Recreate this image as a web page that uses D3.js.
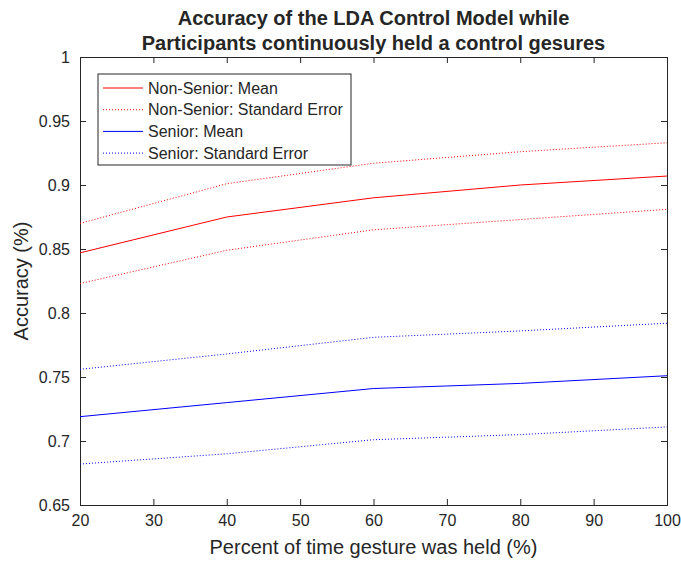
<!DOCTYPE html>
<html>
<head>
<meta charset="utf-8">
<script src="https://cdnjs.cloudflare.com/ajax/libs/d3/7.8.5/d3.min.js"></script>
<style>
  body { margin: 0; background: #fff; }
  text { font-family: "Liberation Sans", Arial, Helvetica, sans-serif; fill: #262626; }
</style>
</head>
<body>
<div id="chart"></div>
<script>
// percent of time the gesture was held
var percentHeld = [20, 40, 60, 80, 100];

var nonSeniorMean  = [0.847, 0.875, 0.890, 0.900, 0.907];
var nonSeniorUpper = [0.870, 0.901, 0.917, 0.926, 0.933];
var nonSeniorLower = [0.823, 0.849, 0.865, 0.873, 0.881];

var seniorMean  = [0.719, 0.730, 0.741, 0.745, 0.751];
var seniorUpper = [0.756, 0.768, 0.781, 0.786, 0.792];
var seniorLower = [0.682, 0.690, 0.701, 0.705, 0.711];

var xTicks = [20, 30, 40, 50, 60, 70, 80, 90, 100];
var yTicks = [0.65, 0.7, 0.75, 0.8, 0.85, 0.9, 0.95, 1];

var series = [
  {name: "Non-Senior: Mean", values: nonSeniorMean, color: "#ff0000", dotted: false},
  {name: "Non-Senior: Standard Error", values: nonSeniorUpper, color: "#ff0000", dotted: true},
  {name: "Non-Senior: Standard Error", values: nonSeniorLower, color: "#ff0000", dotted: true, hideLegend: true},
  {name: "Senior: Mean", values: seniorMean, color: "#0000ff", dotted: false},
  {name: "Senior: Standard Error", values: seniorUpper, color: "#0000ff", dotted: true},
  {name: "Senior: Standard Error", values: seniorLower, color: "#0000ff", dotted: true, hideLegend: true}
];

var WIDTH = 681, HEIGHT = 567;
var margin = {top: 57, right: 14, bottom: 62, left: 80};
var width = WIDTH - margin.left - margin.right,
    height = HEIGHT - margin.top - margin.bottom;

var svg = d3.select("#chart").append("svg")
  .attr("width", WIDTH)
  .attr("height", HEIGHT);

var g = svg.append("g").attr("transform", `translate(${margin.left},${margin.top})`);

var x = d3.scaleLinear().domain([20, 100]).range([0, width]);
var y = d3.scaleLinear().domain([0.65, 1]).range([height, 0]);

var axisColor = "#262626";
var tickLen = 6;

// axes, MATLAB style: ticks inside, box on
var xAxis = g.append("g").attr("transform", `translate(0,${height})`)
  .call(d3.axisBottom(x).tickValues(xTicks).tickSize(-tickLen).tickPadding(10).tickFormat(d3.format("d")));
var xTop = g.append("g")
  .call(d3.axisTop(x).tickValues(xTicks).tickSize(-tickLen).tickFormat(""));
var yAxis = g.append("g")
  .call(d3.axisLeft(y).tickValues(yTicks).tickSize(-tickLen).tickPadding(10).tickFormat(d => d3.format("")(d)));
var yRight = g.append("g").attr("transform", `translate(${width},0)`)
  .call(d3.axisRight(y).tickValues(yTicks).tickSize(-tickLen).tickFormat(""));

[xAxis, xTop, yAxis, yRight].forEach(a => {
  a.select(".domain").attr("stroke", axisColor).attr("stroke-width", 1);
  a.selectAll(".tick line").attr("stroke", axisColor);
  a.selectAll(".tick text").style("font-size", "16px").attr("fill", axisColor)
    .style("font-family", '"Liberation Sans", Arial, sans-serif');
});

// lines
var line = d3.line()
  .x((d, i) => x(percentHeld[i]))
  .y(d => y(d));

g.selectAll("path.series")
  .data(series)
  .join("path")
    .attr("class", "series")
    .attr("fill", "none")
    .attr("stroke", d => d.color)
    .attr("stroke-width", 1)
    .attr("stroke-dasharray", d => d.dotted ? "1,2" : null)
    .attr("d", d => line(d.values));

// title
var title = svg.append("text")
  .attr("x", margin.left + width / 2)
  .attr("text-anchor", "middle")
  .style("font-size", "20px")
  .style("font-weight", "bold")
  .attr("fill", "#000");
title.append("tspan").attr("x", margin.left + width / 2).attr("y", 25)
  .text("Accuracy of the LDA Control Model while");
title.append("tspan").attr("x", margin.left + width / 2).attr("y", 50)
  .text("Participants continuously held a control gesures");

// axis labels
svg.append("text")
  .attr("x", margin.left + width / 2)
  .attr("y", 554)
  .attr("text-anchor", "middle")
  .style("font-size", "20px")
  .text("Percent of time gesture was held (%)");

svg.append("text")
  .attr("transform", `translate(28,${margin.top + height / 2}) rotate(-90)`)
  .attr("text-anchor", "middle")
  .style("font-size", "20px")
  .text("Accuracy (%)");

// legend
var legendItems = series.filter(d => !d.hideLegend);
var legend = svg.append("g").attr("transform", "translate(98,74)");
legend.append("rect")
  .attr("width", 253)
  .attr("height", 91)
  .attr("fill", "#fff")
  .attr("stroke", "#262626")
  .attr("stroke-width", 1);

var li = legend.selectAll("g.item")
  .data(legendItems)
  .join("g")
    .attr("class", "item")
    .attr("transform", (d, i) => `translate(0,${14 + i * 21.7})`);
li.append("line")
  .attr("x1", 5).attr("x2", 45)
  .attr("stroke", d => d.color)
  .attr("stroke-width", 1)
  .attr("stroke-dasharray", d => d.dotted ? "1,2" : null);
li.append("text")
  .attr("x", 50)
  .attr("dy", "0.35em")
  .style("font-size", "16px")
  .text(d => d.name);
</script>
</body>
</html>
